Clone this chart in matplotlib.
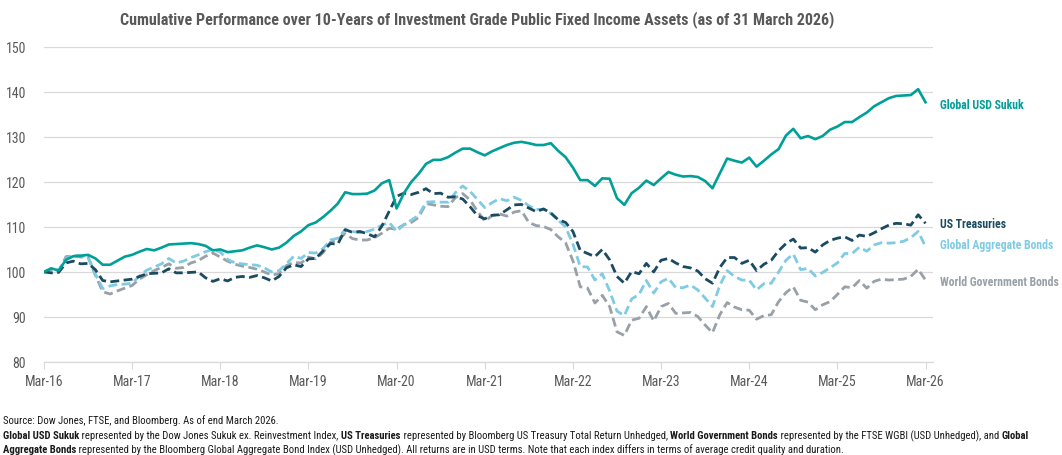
import numpy as np
import matplotlib
matplotlib.use('Agg')
import matplotlib.pyplot as plt
from matplotlib import font_manager

# condensed sans if available
names = set(f.name for f in font_manager.fontManager.ttflist)
FONT = next((n for n in ['Roboto Condensed', 'Archivo Narrow', 'Barlow Condensed'] if n in names), 'DejaVu Sans')
plt.rcParams['font.family'] = [FONT, 'DejaVu Sans']

####################
# Data (index, Mar-16 = 100, monthly)
####################
tick_labels = ['Mar-16', 'Mar-17', 'Mar-18', 'Mar-19', 'Mar-20', 'Mar-21',
               'Mar-22', 'Mar-23', 'Mar-24', 'Mar-25', 'Mar-26']

sukuk = [100.0, 100.8, 100.3, 102.7, 103.5, 103.6, 103.8, 103.0, 101.6, 101.6,
         102.5, 103.4, 103.8, 104.5, 105.1, 104.8, 105.4, 106.1, 106.2, 106.3,
         106.4, 106.2, 105.8, 104.8, 105.0, 104.4, 104.6, 104.8, 105.4, 105.9,
         105.5, 105.0, 105.4, 106.5, 108.0, 109.0, 110.4, 111.0, 112.2, 113.6,
         115.2, 117.7, 117.3, 117.3, 117.4, 118.1, 119.7, 120.4, 114.1, 117.5,
         120.0, 121.8, 124.0, 124.9, 124.9, 125.5, 126.5, 127.4, 127.4, 126.6,
         125.9, 126.8, 127.5, 128.2, 128.7, 128.9, 128.6, 128.2, 128.2, 128.6,
         126.9, 125.5, 123.2, 120.4, 120.4, 119.1, 120.8, 120.7, 116.4, 114.9,
         117.5, 118.7, 120.3, 119.3, 120.8, 122.2, 121.6, 121.2, 121.3, 121.1,
         120.2, 118.6, 121.9, 125.2, 124.7, 124.3, 125.4, 123.4, 124.7, 126.1,
         127.3, 130.3, 131.8, 129.7, 130.2, 129.5, 130.2, 131.6, 132.3, 133.3,
         133.3, 134.4, 135.4, 136.8, 137.7, 138.6, 139.1, 139.2, 139.3, 140.6,
         137.7]

treasuries = [100.0, 99.8, 99.9, 102.0, 102.4, 101.8, 101.9, 100.5, 98.1, 97.8,
              98.0, 98.2, 98.4, 99.0, 99.6, 99.7, 99.8, 100.7, 99.8, 99.8,
              99.9, 100.0, 98.7, 97.9, 98.5, 98.0, 98.8, 99.0, 98.8, 99.2,
              98.7, 98.0, 99.0, 100.9, 101.6, 101.2, 102.9, 103.0, 104.7, 106.3,
              106.2, 109.4, 108.8, 109.0, 108.5, 107.8, 110.2, 113.5, 116.8, 117.5,
              117.2, 117.7, 118.5, 117.4, 117.5, 116.6, 116.7, 116.2, 114.5, 112.5,
              111.8, 112.6, 112.7, 113.8, 114.9, 115.0, 114.2, 113.4, 114.0, 113.1,
              111.6, 111.0, 109.0, 104.8, 104.1, 103.4, 105.0, 102.7, 99.0, 97.5,
              100.1, 99.6, 101.9, 100.0, 102.6, 103.0, 102.0, 101.2, 100.9, 100.2,
              98.5, 97.5, 101.0, 103.2, 103.2, 101.9, 102.6, 100.3, 101.7, 102.6,
              104.7, 106.3, 107.3, 105.3, 105.4, 104.4, 106.0, 107.0, 107.5, 107.8,
              107.0, 108.2, 107.9, 108.7, 109.6, 110.4, 110.8, 110.7, 110.4, 112.7,
              110.8]

global_agg = [100.0, 100.8, 100.4, 103.0, 103.7, 103.6, 103.3, 99.5, 96.3, 96.9,
              97.2, 97.3, 97.5, 99.1, 100.4, 101.1, 101.8, 103.0, 102.0, 102.4,
              103.2, 103.8, 104.5, 105.0, 104.4, 102.8, 102.0, 101.8, 101.6, 101.5,
              100.9, 100.0, 100.3, 101.8, 103.5, 103.0, 104.3, 104.2, 105.2, 107.1,
              107.5, 109.4, 109.0, 108.7, 109.0, 109.5, 110.4, 111.0, 109.0, 110.5,
              111.5, 112.6, 115.5, 115.6, 115.5, 115.5, 117.6, 119.1, 117.9, 116.1,
              114.3, 115.4, 116.3, 115.8, 116.6, 115.9, 114.7, 113.9, 113.9, 113.0,
              111.5, 110.0, 106.2, 101.2, 101.1, 98.2, 99.6, 95.8, 91.3, 90.3,
              94.0, 95.0, 98.1, 95.3, 97.8, 98.6, 96.5, 96.5, 97.1, 96.0,
              94.2, 92.3, 97.0, 100.3, 99.0, 98.2, 98.2, 96.0, 97.4, 97.5,
              100.0, 102.6, 104.0, 100.5, 100.8, 99.1, 99.9, 100.9, 102.0, 104.1,
              104.1, 105.5, 104.6, 106.0, 106.5, 106.4, 106.5, 106.8, 107.6, 109.0,
              105.6]

world_gov = [100.0, 100.5, 100.1, 103.4, 103.6, 103.3, 103.3, 99.3, 95.6, 95.1,
             95.8, 96.4, 97.0, 98.4, 99.4, 100.3, 101.0, 101.8, 100.8, 101.0,
             102.0, 102.5, 103.5, 104.2, 103.3, 102.4, 101.7, 101.3, 101.0, 100.6,
             100.0, 99.3, 99.6, 101.4, 102.1, 102.0, 103.3, 102.9, 104.3, 106.6,
             107.3, 108.5, 107.4, 107.1, 107.1, 107.6, 108.6, 109.7, 109.5, 110.5,
             111.0, 112.1, 115.2, 114.9, 114.6, 114.5, 116.5, 117.4, 116.0, 113.5,
             111.3, 112.5, 112.9, 112.4, 113.3, 113.6, 111.0, 110.3, 110.1, 109.4,
             107.8, 106.5, 102.5, 96.7, 96.4, 93.1, 94.8, 92.3, 86.7, 85.9,
             89.3, 89.7, 92.3, 89.1, 92.3, 93.0, 90.8, 90.9, 91.0, 90.1,
             88.2, 86.5, 90.5, 93.2, 92.2, 91.6, 91.5, 89.5, 90.3, 90.5,
             93.4, 95.4, 96.7, 93.7, 93.3, 91.6, 92.7, 93.4, 95.0, 96.7,
             96.5, 98.1, 96.4, 97.9, 98.4, 98.2, 98.3, 98.4, 99.0, 100.6,
             98.2]

series_names = ['Global USD Sukuk', 'US Treasuries', 'Global Aggregate Bonds', 'World Government Bonds']

TEAL = '#009f98'
NAVY = '#1b4b61'
LBLUE = '#7fcbe4'
GREY = '#98a0a8'

######################
# Plot
######################
fig = plt.figure(figsize=(10.62, 4.56), dpi=100)
ax = fig.add_axes([0.0414, 0.204, 0.837, 0.691])

months = np.arange(len(sukuk))
ax.plot(months, world_gov, color=GREY, lw=2.0, dashes=(3.2, 1.6))
ax.plot(months, global_agg, color=LBLUE, lw=2.0, dashes=(3.2, 1.6))
ax.plot(months, treasuries, color=NAVY, lw=2.0, dashes=(3.2, 1.6))
ax.plot(months, sukuk, color=TEAL, lw=1.9)

ax.set_xlim(0, 121)
ax.set_ylim(80, 150)
ax.set_yticks(range(80, 151, 10))
ax.set_xticks(range(0, 121, 12))
ax.set_xticklabels(tick_labels)
ax.grid(axis='y', color='#d9d9d9', lw=0.9)
ax.set_axisbelow(True)
for s in ['top', 'right', 'left']:
    ax.spines[s].set_visible(False)
ax.spines['bottom'].set_color('#d9d9d9')
ax.spines['bottom'].set_linewidth(0.9)
ax.tick_params(axis='x', length=5, color='#d9d9d9', labelsize=10, labelcolor='#595959', pad=4)
ax.tick_params(axis='y', length=0, labelsize=10, labelcolor='#595959', pad=13)

# end labels (nudged off the last points like the original)
ends = [(sukuk[-1] - 0.4, series_names[0], TEAL),
        (treasuries[-1] - 0.1, series_names[1], NAVY),
        (global_agg[-1] + 0.4, series_names[2], LBLUE),
        (world_gov[-1] - 0.4, series_names[3], GREY)]
for yv, name, c in ends:
    ax.text(1.008, yv, name, transform=ax.get_yaxis_transform(), color=c,
            fontsize=8.5, fontweight='bold', va='center', ha='left', clip_on=False)

fig.text(0.449, 0.958, 'Cumulative Performance over 10-Years of Investment Grade Public Fixed Income Assets (as of 31 March 2026)',
         ha='center', va='center', fontsize=11.5, fontweight='bold', color='#595959')

# footnotes with bold runs
fig.canvas.draw()
renderer = fig.canvas.get_renderer()

line1 = [('Source: Dow Jones, FTSE, and Bloomberg. As of end March 2026.', False)]
line2 = [('Global USD Sukuk', True),
         (' represented by the Dow Jones Sukuk ex. Reinvestment Index, ', False),
         ('US Treasuries', True),
         (' represented by Bloomberg US Treasury Total Return Unhedged, ', False),
         ('World Government Bonds', True),
         (' represented by the FTSE WGBI (USD Unhedged), and ', False),
         ('Global', True)]
line3 = [('Aggregate Bonds', True),
         (' represented by the Bloomberg Global Aggregate Bond Index (USD Unhedged). All returns are in USD terms. '
          'Note that each index differs in terms of average credit quality and duration.', False)]

def rich_line(x0, y, parts, size):
    x = x0
    for txt, bold in parts:
        t = fig.text(x, y, txt, fontsize=size, fontweight='bold' if bold else 'normal',
                     color='#1a1a1a', ha='left', va='center')
        x += t.get_window_extent(renderer=renderer).width / fig.bbox.width
    return x

# pick a size so the long line spans about the same width as the original
probe = [fig.text(0, 0, txt, fontsize=10, fontweight='bold' if b else 'normal') for txt, b in line2]
w10 = sum(p.get_window_extent(renderer=renderer).width for p in probe)
for p in probe:
    p.remove()
note_size = 10 * 1022 / w10

rich_line(0.003, 1 - 421 / 456, line1, note_size)
rich_line(0.003, 1 - 436 / 456, line2, note_size)
rich_line(0.003, 1 - 450 / 456, line3, note_size)

fig.savefig('out.png', dpi=100)
